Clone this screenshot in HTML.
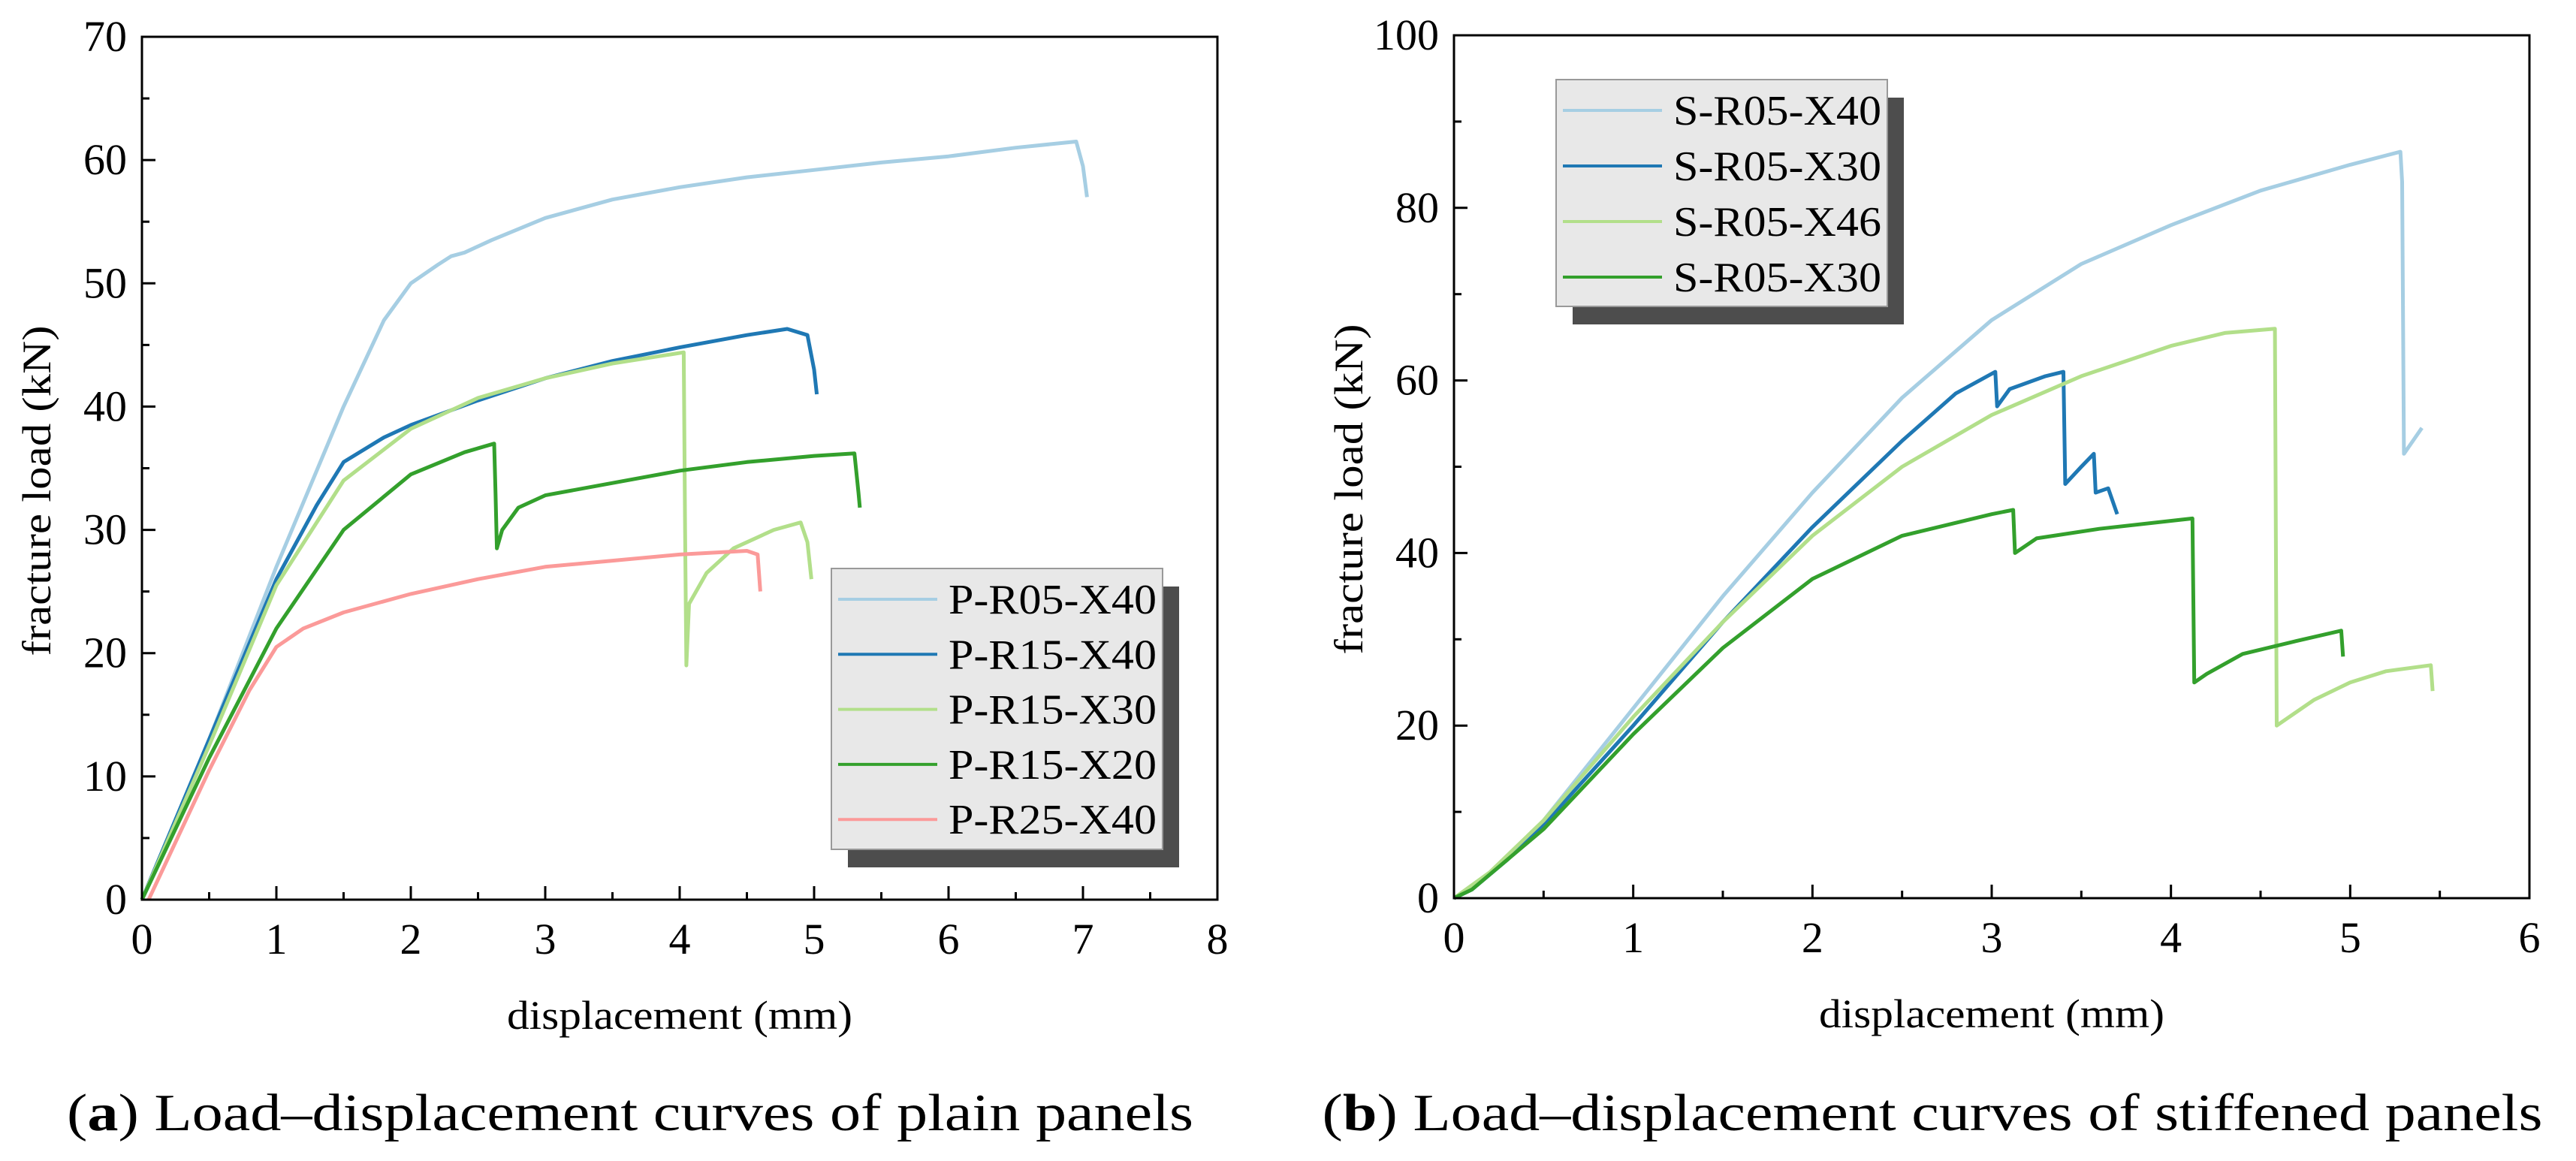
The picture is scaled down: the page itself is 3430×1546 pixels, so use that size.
<!DOCTYPE html>
<html><head><meta charset="utf-8"><style>
html,body{margin:0;padding:0;background:#fff}
svg{display:block;font-family:"Liberation Serif",serif}
</style></head><body>
<svg id="c" width="3430" height="1546" viewBox="0 0 3430 1546" xmlns="http://www.w3.org/2000/svg">
<g id="pa"></g>
<g id="pb"></g>
<text x="839" y="1505" font-size="70" text-anchor="middle" textLength="1500" lengthAdjust="spacingAndGlyphs">(<tspan font-weight="bold">a</tspan>) Load–displacement curves of plain panels</text>
<text x="2573" y="1505" font-size="70" text-anchor="middle" textLength="1625" lengthAdjust="spacingAndGlyphs">(<tspan font-weight="bold">b</tspan>) Load–displacement curves of stiffened panels</text>
</svg>
<script>
const NS="http://www.w3.org/2000/svg";
// ---- Chart A data ----
const aNames=["P-R05-X40","P-R15-X40","P-R15-X30","P-R15-X20","P-R25-X40"];
const aColors=["#a6cee3","#1f78b4","#b2df8a","#33a02c","#fb9a99"];
const aX0=[0,0.5,1,1.5,1.8,2,2.2,2.3,2.4,2.6,3,3.5,4,4.5,5,5.5,6,6.5,6.95,7.0,7.03];
const aY0=[0,13,27,40,47,50,51.5,52.2,52.5,53.5,55.3,56.8,57.8,58.6,59.2,59.8,60.3,61,61.5,59.5,57];
const aX1=[0,0.5,1,1.3,1.5,1.8,2,2.5,3,3.5,4,4.5,4.8,4.95,5,5.02];
const aY1=[0,13,26,32,35.5,37.5,38.5,40.5,42.3,43.7,44.8,45.8,46.3,45.8,43,41];
const aX2=[0,0.5,1,1.5,2,2.5,3,3.5,4.03,4.04,4.05,4.07,4.2,4.4,4.7,4.9,4.95,4.98];
const aY2=[0,12.5,25.5,34,38.2,40.7,42.3,43.5,44.4,30,19,24,26.5,28.5,30,30.6,29,26];
const aX3=[0,0.5,1,1.5,2,2.4,2.62,2.63,2.64,2.68,2.8,3,3.5,4,4.5,5,5.3,5.33,5.34];
const aY3=[0,11.5,22,30,34.5,36.3,37,33,28.5,30,31.8,32.8,33.8,34.8,35.5,36,36.2,33,31.8];
const aX4=[0.05,0.5,0.8,1,1.2,1.5,2,2.5,3,3.5,4,4.5,4.58,4.6];
const aY4=[0,10.5,17,20.5,22,23.3,24.8,26,27,27.5,28,28.3,28,25];
const aXTicks=[0,1,2,3,4,5,6,7,8];
const aYTicks=[0,10,20,30,40,50,60,70];
// ---- Chart B data ----
const bNames=["S-R05-X40","S-R05-X30","S-R05-X46","S-R05-X30"];
const bColors=["#a6cee3","#1f78b4","#b2df8a","#33a02c"];
const bX0=[0,0.1,0.3,0.5,1,1.5,2,2.5,3,3.5,4,4.5,5,5.28,5.29,5.3,5.35,5.4];
const bY0=[0,1,4.5,9,22,35,47,58,67,73.5,78,82,85,86.5,83,51.5,53,54.5];
const bX1=[0,0.1,0.3,0.5,1,1.5,2,2.5,2.8,3.02,3.03,3.1,3.3,3.4,3.41,3.5,3.57,3.58,3.65,3.7];
const bY1=[0,1,4.5,8.5,20,32,43,53,58.5,61,57,59,60.5,61,48,50,51.5,47,47.5,44.5];
const bX2=[0,0.2,0.5,1,1.5,2,2.5,3,3.5,4,4.3,4.58,4.59,4.8,5,5.2,5.45,5.46];
const bY2=[0,3,9,21,32,42,50,56,60.5,64,65.5,66,20,23,25,26.3,27,24];
const bX3=[0,0.1,0.3,0.5,1,1.5,2,2.5,3,3.12,3.13,3.25,3.6,4.12,4.13,4.2,4.4,4.7,4.95,4.96];
const bY3=[0,1,4.5,8,19,29,37,42,44.5,45,40,41.7,42.8,44,25,26,28.3,29.8,31,28];
const bXTicks=[0,1,2,3,4,5,6];
const bYTicks=[0,20,40,60,80,100];

function mk(p,tag,at,txt){const e=document.createElementNS(NS,tag);for(const k in at)e.setAttribute(k,at[k]);if(txt!==undefined)e.textContent=txt;p.appendChild(e);return e;}

function chart(g,box,xmax,ymax,xt,yt,series,names,colors,leg){
  const sx=v=>box.l+(box.r-box.l)*v/xmax, sy=v=>box.b-(box.b-box.t)*v/ymax;
  series.forEach((s,i)=>{
    const pl=mk(g,"polyline",{points:s[0].map((x,j)=>sx(x).toFixed(1)+","+sy(s[1][j]).toFixed(1)).join(" "),fill:"none",stroke:colors[i],"stroke-width":5,"stroke-linejoin":"round"});
    
    
  });
  const fr=mk(g,"rect",{x:box.l,y:box.t,width:box.r-box.l,height:box.b-box.t,fill:"none",stroke:"#000","stroke-width":3});
  
  
  xt.forEach((v,i)=>{
    const x=sx(v);
    mk(g,"line",{x1:x,x2:x,y1:box.b,y2:box.b-18,stroke:"#000","stroke-width":3});
    if(i<xt.length-1){const xm=sx(v+(xt[1]-xt[0])/2);mk(g,"line",{x1:xm,x2:xm,y1:box.b,y2:box.b-10,stroke:"#000","stroke-width":3});}
    const t=mk(g,"text",{x:x,y:box.b+72,"font-size":58,"text-anchor":"middle"},String(v));
    
    
  });
  yt.forEach((v,i)=>{
    const y=sy(v);
    mk(g,"line",{x1:box.l,x2:box.l+18,y1:y,y2:y,stroke:"#000","stroke-width":3});
    if(i<yt.length-1){const ym=sy(v+(yt[1]-yt[0])/2);mk(g,"line",{x1:box.l,x2:box.l+10,y1:ym,y2:ym,stroke:"#000","stroke-width":3});}
    const t=mk(g,"text",{x:box.l-20,y:y+19,"font-size":58,"text-anchor":"end"},String(v));
    
    
  });
  const xtitle=mk(g,"text",{x:(box.l+box.r)/2,y:box.b+172,"font-size":54,"text-anchor":"middle",textLength:460,lengthAdjust:"spacingAndGlyphs"},"displacement (mm)");
  
  
  const cy=(box.t+box.b)/2+30;
  const ytitle=mk(g,"text",{x:0,y:0,"font-size":54,"text-anchor":"middle",transform:`translate(${box.l-122},${cy}) rotate(-90)`,textLength:440,lengthAdjust:"spacingAndGlyphs"},"fracture load (kN)");
  
  
  const lg=mk(g,"g",{});
  
  
  mk(lg,"rect",{x:leg.x+22,y:leg.y+24,width:leg.w,height:leg.h,fill:"#4d4d4d"});
  mk(lg,"rect",{x:leg.x,y:leg.y,width:leg.w,height:leg.h,fill:"#e8e8e8",stroke:"#999","stroke-width":2});
  names.forEach((n,i)=>{
    const y=leg.r0+i*leg.dy;
    const e=mk(lg,"g",{});
    
    
    mk(e,"line",{x1:leg.x+9,x2:leg.x+141,y1:y,y2:y,stroke:colors[i],"stroke-width":4});
    mk(e,"text",{x:leg.x+156,y:y+19,"font-size":56,textLength:277,lengthAdjust:"spacingAndGlyphs"},n);
  });
}
chart(document.getElementById("pa"),{l:189,r:1621,t:49,b:1198},8,70,aXTicks,aYTicks,
  [[aX0,aY0],[aX1,aY1],[aX2,aY2],[aX3,aY3],[aX4,aY4]],aNames,aColors,
  {x:1107,y:757,w:441,h:374,r0:798,dy:73.3});
chart(document.getElementById("pb"),{l:1936,r:3368,t:47,b:1196},6,100,bXTicks,bYTicks,
  [[bX0,bY0],[bX1,bY1],[bX2,bY2],[bX3,bY3]],bNames,bColors,
  {x:2072,y:106,w:441,h:302,r0:147,dy:74});
</script>
</body></html>
